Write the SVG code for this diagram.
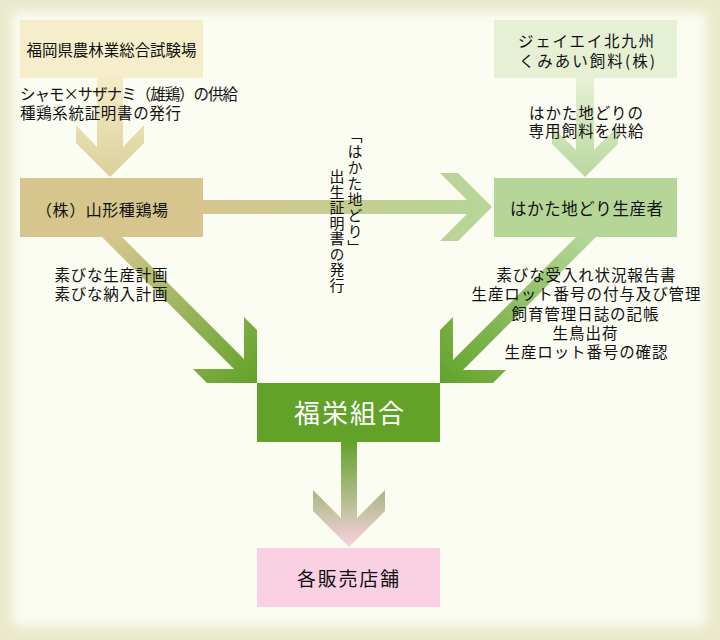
<svg xmlns="http://www.w3.org/2000/svg" width="720" height="640" viewBox="0 0 720 640">
<style>
.t{font-family:"Noto Sans CJK JP","Noto Sans CJK SC",sans-serif;font-size:15.5px;fill:#111}
.c{text-anchor:middle}
.v{writing-mode:vertical-rl;font-size:15px}
.s16{font-size:16px}
.s165{font-size:16.5px}
.big{font-size:26px;fill:#fff}
.s19{font-size:19px}
</style>
<defs>
<filter id="soft" x="-5%" y="-5%" width="110%" height="110%"><feGaussianBlur stdDeviation="6"/></filter>
<linearGradient id="gL" gradientUnits="userSpaceOnUse" x1="0" y1="78" x2="0" y2="177"><stop offset="0" stop-color="#F4ECC8"/><stop offset="1" stop-color="#DCCF9A"/></linearGradient>
<linearGradient id="gR" gradientUnits="userSpaceOnUse" x1="0" y1="78" x2="0" y2="177"><stop offset="0" stop-color="#E6F0D6"/><stop offset="1" stop-color="#BAD89E"/></linearGradient>
<linearGradient id="gH" gradientUnits="userSpaceOnUse" x1="203" y1="0" x2="492" y2="0"><stop offset="0" stop-color="#D6C68E"/><stop offset="1" stop-color="#B5D697"/></linearGradient>
<linearGradient id="gDL" gradientUnits="userSpaceOnUse" x1="112" y1="237" x2="257" y2="383"><stop offset="0" stop-color="#D6C68E"/><stop offset="1" stop-color="#62A229"/></linearGradient>
<linearGradient id="gDR" gradientUnits="userSpaceOnUse" x1="586" y1="237" x2="440" y2="383"><stop offset="0" stop-color="#B5D697"/><stop offset="1" stop-color="#62A229"/></linearGradient>
<linearGradient id="gB" gradientUnits="userSpaceOnUse" x1="0" y1="442" x2="0" y2="547"><stop offset="0" stop-color="#62A229"/><stop offset="1" stop-color="#F9D1E3"/></linearGradient>
</defs>
<rect width="720" height="640" fill="#EAE9CC"/>
<rect x="12" y="12" width="694" height="614" fill="#FBFDF2" filter="url(#soft)"/>

<g id="connectors">
<polygon id="c1" fill="url(#gL)" points="99,78 123,78 123,147 144,125 144,143 110,177 76,143 76,125 97,147 97,78"/>
<polygon id="c2" fill="url(#gR)" points="576,78 594,78 594,150 618,126 618,144 585,177 552,144 552,126 576,150"/>
<polygon id="c3" fill="url(#gH)" points="203,200 467,200 440,173 458,173 492,207 458,241 440,241 467,214 203,214"/>
<polygon id="c4" fill="url(#gDL)" points="102,237 122,237 244,359 244,317 257,330 257,383 207,383 193,369 234,369"/>
<polygon id="c5" fill="url(#gDR)" points="596,237 576,237 453,360 453,317 440,330 440,383 493,383 506,370 463,370"/>
<polygon id="c6" fill="url(#gB)" points="341,442 357,442 357,518 385,490 385,511 349,547 313,511 313,490 341,518"/>
</g>

<g id="n1">
<rect x="20" y="20" width="183" height="58" fill="#F6EECB"/>
<text class="t c" x="111.5" y="56" textLength="170">福岡県農林業総合試験場</text>
</g>
<g id="n2">
<rect x="20" y="178" width="183" height="59" fill="#D6C68E"/>
<text class="t s16" x="36" y="216" textLength="132">（株）山形種鶏場</text>
</g>
<g id="n3">
<rect x="494" y="20" width="183" height="58" fill="#E6F0D4"/>
<text class="t c" x="586" y="47" textLength="136">ジェイエイ北九州</text>
<text class="t c" x="587" y="67" textLength="136">くみあい飼料(株)</text>
</g>
<g id="n4">
<rect x="494" y="178" width="183" height="59" fill="#B5D697"/>
<text class="t c s165" x="586.5" y="215" textLength="153">はかた地どり生産者</text>
</g>
<g id="n5">
<rect x="257" y="383" width="183" height="59" fill="#62A229"/>
<text class="t c big" x="349" y="423" textLength="110">福栄組合</text>
</g>
<g id="n6">
<rect x="257" y="548" width="183" height="59" fill="#F9D1E3"/>
<text class="t c s19" x="348" y="586" textLength="102">各販売店舗</text>
</g>

<g id="labels">
<text class="t" x="20" y="100" textLength="218">シャモ×サザナミ（雄鶏）の供給</text>
<text class="t" x="20" y="119" textLength="161">種鶏系統証明書の発行</text>
<text class="t c" x="586" y="119" textLength="114">はかた地どりの</text>
<text class="t c" x="586" y="137" textLength="115">専用飼料を供給</text>
<text class="t c" x="111" y="281" textLength="113">素びな生産計画</text>
<text class="t c" x="111" y="300" textLength="113">素びな納入計画</text>
<text class="t c" x="586" y="281" textLength="179">素びな受入れ状況報告書</text>
<text class="t c" x="586" y="300" textLength="229">生産ロット番号の付与及び管理</text>
<text class="t c" x="585" y="319.5" textLength="147">飼育管理日誌の記帳</text>
<text class="t c" x="585" y="339" textLength="65">生鳥出荷</text>
<text class="t c" x="586" y="358" textLength="163">生産ロット番号の確認</text>
<text class="t v" x="355" y="128" letter-spacing="1">「はかた地どり」</text>
<text class="t v" x="337" y="169" letter-spacing="0.5">出生証明書の発行</text>
</g>
</svg>
